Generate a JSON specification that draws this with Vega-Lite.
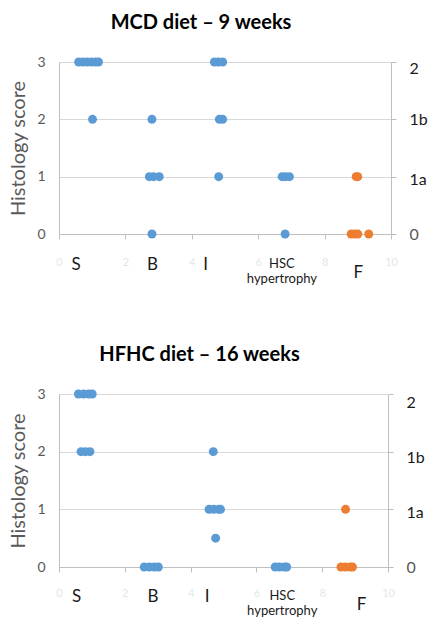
{
  "$schema": "https://vega.github.io/schema/vega-lite/v6.json",
  "padding": {"left": 8, "top": 13, "right": 5, "bottom": 2},
  "config": {"view": {"stroke": null}, "font": "Lato", "concat": {"spacing": 60}},
  "datasets": {
    "mcd": [
      {"x": 0.59, "score": 3, "group": "NAS"}, {"x": 0.72, "score": 3, "group": "NAS"}, {"x": 0.85, "score": 3, "group": "NAS"},
      {"x": 0.98, "score": 3, "group": "NAS"}, {"x": 1.1, "score": 3, "group": "NAS"}, {"x": 1.19, "score": 3, "group": "NAS"},
      {"x": 1.01, "score": 2, "group": "NAS"},
      {"x": 2.8, "score": 2, "group": "NAS"},
      {"x": 2.72, "score": 1, "group": "NAS"}, {"x": 2.85, "score": 1, "group": "NAS"}, {"x": 3.02, "score": 1, "group": "NAS"},
      {"x": 2.8, "score": 0, "group": "NAS"},
      {"x": 4.68, "score": 3, "group": "NAS"}, {"x": 4.8, "score": 3, "group": "NAS"}, {"x": 4.93, "score": 3, "group": "NAS"},
      {"x": 4.83, "score": 2, "group": "NAS"}, {"x": 4.93, "score": 2, "group": "NAS"},
      {"x": 4.81, "score": 1, "group": "NAS"},
      {"x": 6.72, "score": 1, "group": "NAS"}, {"x": 6.82, "score": 1, "group": "NAS"}, {"x": 6.94, "score": 1, "group": "NAS"},
      {"x": 6.81, "score": 0, "group": "NAS"},
      {"x": 8.95, "score": 1, "group": "Fibrosis"}, {"x": 9.0, "score": 1, "group": "Fibrosis"},
      {"x": 8.8, "score": 0, "group": "Fibrosis"}, {"x": 8.9, "score": 0, "group": "Fibrosis"}, {"x": 9.0, "score": 0, "group": "Fibrosis"},
      {"x": 9.33, "score": 0, "group": "Fibrosis"}
    ],
    "hfhc": [
      {"x": 0.59, "score": 3, "group": "NAS"}, {"x": 0.75, "score": 3, "group": "NAS"}, {"x": 0.9, "score": 3, "group": "NAS"}, {"x": 1.01, "score": 3, "group": "NAS"},
      {"x": 0.67, "score": 2, "group": "NAS"}, {"x": 0.8, "score": 2, "group": "NAS"}, {"x": 0.94, "score": 2, "group": "NAS"},
      {"x": 2.59, "score": 0, "group": "NAS"}, {"x": 2.75, "score": 0, "group": "NAS"}, {"x": 2.9, "score": 0, "group": "NAS"}, {"x": 3.02, "score": 0, "group": "NAS"},
      {"x": 4.69, "score": 2, "group": "NAS"},
      {"x": 4.56, "score": 1, "group": "NAS"}, {"x": 4.7, "score": 1, "group": "NAS"}, {"x": 4.85, "score": 1, "group": "NAS"}, {"x": 4.91, "score": 1, "group": "NAS"},
      {"x": 4.76, "score": 0.5, "group": "NAS"},
      {"x": 6.57, "score": 0, "group": "NAS"}, {"x": 6.7, "score": 0, "group": "NAS"}, {"x": 6.85, "score": 0, "group": "NAS"}, {"x": 6.92, "score": 0, "group": "NAS"},
      {"x": 8.71, "score": 1, "group": "Fibrosis"},
      {"x": 8.57, "score": 0, "group": "Fibrosis"}, {"x": 8.7, "score": 0, "group": "Fibrosis"}, {"x": 8.85, "score": 0, "group": "Fibrosis"}, {"x": 8.92, "score": 0, "group": "Fibrosis"}
    ]
  },
  "vconcat": [
    {
      "width": 332,
      "height": 172,
      "title": {"text": "MCD diet – 9 weeks", "fontSize": 20, "fontWeight": "bold", "color": "#000000", "anchor": "middle", "dx": -24, "offset": 22},
      "data": {"name": "mcd"},
      "layer": [
        {
          "mark": {"type": "circle", "size": 80, "opacity": 0},
          "encoding": {
            "y": {"field": "score", "type": "quantitative",
              "axis": {"orient": "right", "values": [0, 1, 2, 3], "grid": false, "title": null,
                "domainColor": "#bfbfbf", "tickColor": "#bfbfbf", "tickSize": 5, "labelPadding": 13,
                "labelFontSize": 16, "labelColor": {"condition": {"test": "datum.value === 0", "value": "#595959"}, "value": "#1a1a1a"},
                "labelExpr": "datum.value === 3 ? '2' : datum.value === 2 ? '1b' : datum.value === 1 ? '1a' : '0'",
                "labelOffset": {"condition": [{"test": "datum.value === 3", "value": 6}, {"test": "datum.value === 1", "value": 3}], "value": 0}}}
          }
        },
        {
          "mark": {"type": "circle", "size": 80, "opacity": 1},
          "encoding": {
            "x": {"field": "x", "type": "quantitative", "scale": {"domain": [0, 10], "nice": false, "zero": false},
              "axis": {"values": [0, 0.5, 2, 2.8, 4, 4.4, 6, 6.7, 8, 9, 10], "title": null, "grid": false,
                "domainColor": "#bfbfbf", "tickColor": "#bfbfbf", "tickSize": 5,
                "tickOpacity": {"condition": {"test": "datum.value % 2 === 0", "value": 1}, "value": 0},
                "labelExpr": "datum.value === 0.5 ? 'S' : datum.value === 2.8 ? 'B' : datum.value === 4.4 ? 'I' : datum.value === 6.7 ? ['HSC', 'hypertrophy'] : datum.value === 9 ? 'F' : datum.label",
                "labelColor": {"condition": {"test": "datum.value % 2 === 0", "value": "#e6e6e6"}, "value": "#1a1a1a"},
                "labelFontSize": {"condition": [{"test": "datum.value % 2 === 0", "value": 11}, {"test": "datum.value === 6.7", "value": 13}], "value": 17},
                "labelPadding": {"condition": [{"test": "datum.value % 2 === 0", "value": 17}, {"test": "datum.value === 6.7", "value": 18}, {"test": "datum.value === 9", "value": 25}], "value": 17},
                "labelOverlap": false, "labelFlush": false, "labelBound": false}},
            "y": {"field": "score", "type": "quantitative", "scale": {"domain": [0, 3], "nice": false},
              "axis": {"orient": "left", "values": [0, 1, 2, 3], "grid": true, "gridColor": "#d9d9d9", "format": "d",
                "title": "Histology score", "titleFontSize": 20, "titleFontWeight": "normal", "titleColor": "#595959", "titlePadding": 8,
                "labelColor": "#595959", "labelFontSize": 14, "labelPadding": 14, "tickSize": 0, "tickColor": "#bfbfbf", "domainColor": "#bfbfbf"}},
            "color": {"field": "group", "type": "nominal", "scale": {"domain": ["NAS", "Fibrosis"], "range": ["#5b9bd5", "#ed7d31"]}, "legend": null}
          }
        }
      ],
      "resolve": {"axis": {"y": "independent"}}
    },
    {
      "width": 329,
      "height": 173,
      "title": {"text": "HFHC diet – 16 weeks", "fontSize": 20, "fontWeight": "bold", "color": "#000000", "anchor": "middle", "dx": -24, "offset": 22},
      "data": {"name": "hfhc"},
      "layer": [
        {
          "mark": {"type": "circle", "size": 80, "opacity": 0},
          "encoding": {
            "y": {"field": "score", "type": "quantitative",
              "axis": {"orient": "right", "values": [0, 1, 2, 3], "grid": false, "title": null,
                "domainColor": "#bfbfbf", "tickColor": "#bfbfbf", "tickSize": 5, "labelPadding": 13,
                "labelFontSize": 16, "labelColor": {"condition": {"test": "datum.value === 0", "value": "#595959"}, "value": "#1a1a1a"},
                "labelExpr": "datum.value === 3 ? '2' : datum.value === 2 ? '1b' : datum.value === 1 ? '1a' : '0'",
                "labelOffset": {"condition": [{"test": "datum.value === 3", "value": 8}, {"test": "datum.value === 2", "value": 6}, {"test": "datum.value === 1", "value": 3}], "value": 0}}}
          }
        },
        {
          "mark": {"type": "circle", "size": 80, "opacity": 1},
          "encoding": {
            "x": {"field": "x", "type": "quantitative", "scale": {"domain": [0, 10], "nice": false, "zero": false},
              "axis": {"values": [0, 0.52, 2, 2.84, 4, 4.49, 6, 6.77, 8, 9.18, 10], "title": null, "grid": false,
                "domainColor": "#bfbfbf", "tickColor": "#bfbfbf", "tickSize": 5,
                "tickOpacity": {"condition": {"test": "datum.value % 2 === 0", "value": 1}, "value": 0},
                "labelExpr": "datum.value === 0.52 ? 'S' : datum.value === 2.84 ? 'B' : datum.value === 4.49 ? 'I' : datum.value === 6.77 ? ['HSC', 'hypertrophy'] : datum.value === 9.18 ? 'F' : datum.label",
                "labelColor": {"condition": {"test": "datum.value % 2 === 0", "value": "#e6e6e6"}, "value": "#1a1a1a"},
                "labelFontSize": {"condition": [{"test": "datum.value % 2 === 0", "value": 11}, {"test": "datum.value === 6.77", "value": 13}], "value": 17},
                "labelPadding": {"condition": [{"test": "datum.value % 2 === 0", "value": 15}, {"test": "datum.value === 6.77", "value": 17}, {"test": "datum.value === 9.18", "value": 24}], "value": 16},
                "labelOverlap": false, "labelFlush": false, "labelBound": false}},
            "y": {"field": "score", "type": "quantitative", "scale": {"domain": [0, 3], "nice": false},
              "axis": {"orient": "left", "values": [0, 1, 2, 3], "grid": true, "gridColor": "#d9d9d9", "format": "d",
                "title": "Histology score", "titleFontSize": 20, "titleFontWeight": "normal", "titleColor": "#595959", "titlePadding": 8,
                "labelColor": "#595959", "labelFontSize": 14, "labelPadding": 14, "tickSize": 0, "tickColor": "#bfbfbf", "domainColor": "#bfbfbf"}},
            "color": {"field": "group", "type": "nominal", "scale": {"domain": ["NAS", "Fibrosis"], "range": ["#5b9bd5", "#ed7d31"]}, "legend": null}
          }
        }
      ],
      "resolve": {"axis": {"y": "independent"}}
    }
  ]
}
